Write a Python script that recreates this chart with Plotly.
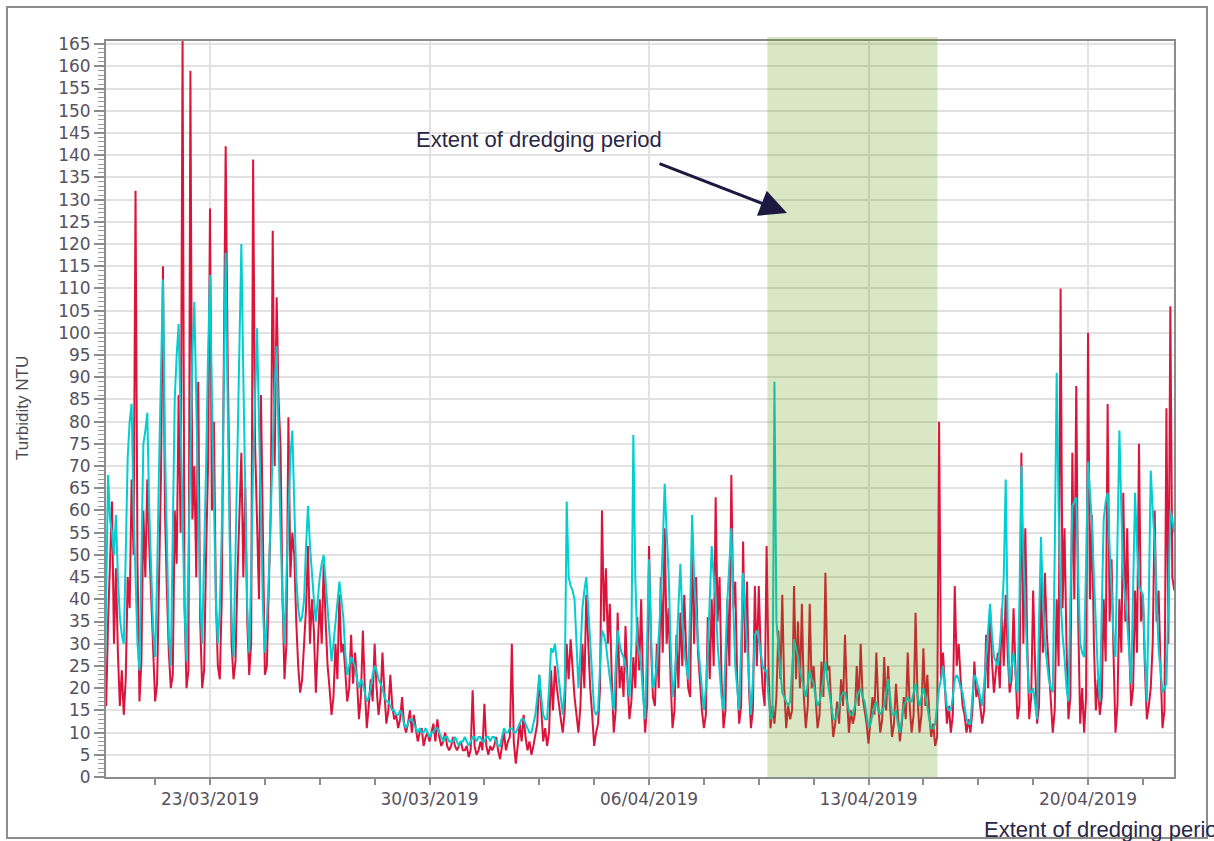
import pandas as pd
import plotly.graph_objects as go

# ---- data (1.5-hourly readings) ----
series_start = "2019-03-19 15:00"
step = "90min"

# red sensor, NTU (one row per day, 00:00 .. 22:30 every 1.5 h)
red_ntu = [
    20, 16, 35, 48, 62, 30,                                            # 19/03 (from 15:00)
    47, 28, 16, 24, 14, 22, 45, 38, 67, 50, 132, 48, 17, 26, 60, 45,   # 20/03
    67, 52, 40, 26, 17, 21, 50, 68, 115, 60, 42, 28, 20, 23, 60, 48,   # 21/03
    86, 55, 166, 39, 20, 24, 159, 58, 70, 45, 89, 35, 20, 24, 50, 70,  # 22/03
    128, 60, 80, 40, 25, 22, 40, 90, 142, 95, 64, 30, 22, 26, 45, 58,  # 23/03
    73, 45, 65, 35, 23, 30, 139, 75, 60, 40, 86, 50, 23, 25, 40, 60,   # 24/03
    123, 70, 108, 85, 74, 40, 22, 30, 81, 45, 55, 50, 35, 25, 19, 22,  # 25/03
    30, 38, 52, 30, 40, 33, 19, 28, 40, 30, 48, 35, 25, 20, 14, 18,    # 26/03
    30, 22, 41, 28, 30, 24, 17, 20, 32, 21, 28, 22, 13, 18, 33, 20,    # 27/03
    11, 16, 22, 17, 30, 20, 14, 18, 28, 19, 12, 15, 23, 16, 13, 14,    # 28/03
    11, 13, 18, 12, 10, 12, 15, 10, 14, 11, 8, 10, 11, 7, 9, 10,       # 29/03
    8, 10, 12, 8, 13, 9, 7, 8, 10, 7, 6, 7, 9, 7, 6, 7,                # 30/03
    8, 6, 6, 7, 4.5, 6, 19.5, 7, 5, 6, 8, 6, 16.5, 7, 5, 7,            # 31/03
    6, 7, 9, 6, 4, 7, 10, 6, 8, 9, 30, 8, 3, 7, 12, 8,                 # 01/04
    14, 9, 6, 8, 5, 7, 10, 12, 23, 14, 8, 11, 7, 10, 24, 15,           # 02/04
    25, 20, 16, 13, 10, 15, 30, 22, 31, 24, 18, 14, 10, 16, 30, 20,    # 03/04
    41, 30, 20, 14, 7, 10, 12, 20, 60, 35, 47, 30, 39, 22, 10, 15,     # 04/04
    37, 20, 25, 18, 34, 22, 13, 17, 27, 20, 36, 24, 40, 20, 10, 16,    # 05/04
    52, 30, 18, 16, 30, 20, 45, 28, 56, 30, 38, 22, 11, 15, 32, 20,    # 06/04
    37, 25, 41, 28, 20, 18, 55, 30, 45, 28, 20, 15, 11, 14, 36, 22,    # 07/04
    40, 25, 63, 35, 45, 22, 11, 15, 40, 25, 68, 38, 44, 22, 12, 16,    # 08/04
    53, 28, 44, 20, 11, 15, 43, 25, 43, 28, 20, 16, 52, 24, 11, 16,    # 09/04
    12, 18, 33, 22, 41, 20, 11, 16, 13, 15, 43, 22, 35, 20, 39, 18,    # 10/04
    11, 16, 39, 20, 25, 18, 11, 14, 26, 18, 46, 24, 25, 16, 9, 12,     # 11/04
    17, 12, 22, 16, 32, 18, 10, 15, 12, 14, 25, 16, 30, 18, 15, 12,    # 12/04
    7.5, 12, 18, 14, 28, 16, 10, 13, 27, 15, 25, 16, 9, 12, 21, 14,    # 13/04
    8, 12, 18, 13, 28, 16, 10, 14, 37, 18, 10, 14, 29, 16, 23, 14,     # 14/04
    9, 12, 7, 9, 80, 22, 28, 20, 12, 16, 10, 14, 43, 25, 30, 22,       # 15/04
    16, 14, 10, 13, 10, 15, 26, 18, 20, 16, 12, 15, 32, 20, 38, 26,    # 16/04
    19, 24, 28, 20, 38, 25, 41, 28, 19, 22, 38, 24, 13, 16, 73, 30,    # 17/04
    56, 30, 13, 18, 42, 25, 12, 16, 45, 28, 46, 32, 25, 18, 10, 15,    # 18/04
    40, 25, 110, 38, 56, 30, 13, 18, 73, 40, 88, 35, 12, 20, 10, 18,   # 19/04
    100, 40, 59, 30, 15, 22, 14, 18, 40, 26, 84, 35, 49, 28, 10, 16,   # 20/04
    40, 28, 64, 35, 56, 30, 16, 20, 42, 28, 75, 35, 41, 25, 13, 16,    # 21/04
    20, 30, 60, 35, 42, 25, 11, 15, 83, 30, 106, 45, 42,               # 22/04 (to 18:00)
]

# cyan sensor, NTU
cyan_ntu = [
    12, 40, 68, 58, 55, 50,                                            # 19/03
    59, 45, 36, 32, 30, 50, 72, 80, 84, 60, 45, 30, 24, 50, 75, 78,    # 20/03
    82, 60, 45, 33, 27, 45, 70, 95, 112, 75, 50, 32, 25, 55, 85, 95,   # 21/03
    102, 80, 60, 38, 26, 50, 80, 95, 107, 85, 60, 40, 30, 48, 70, 95,  # 22/03
    113, 85, 60, 40, 30, 38, 55, 90, 118, 85, 54, 36, 27, 50, 75, 100, # 23/03
    120, 90, 60, 38, 28, 45, 70, 88, 101, 80, 55, 38, 28, 35, 45, 60,  # 24/03
    75, 88, 97, 75, 55, 40, 30, 45, 60, 72, 78, 60, 45, 38, 35, 36,    # 25/03
    40, 52, 61, 52, 45, 40, 35, 40, 45, 48, 50, 44, 38, 30, 26, 30,    # 26/03
    35, 40, 44, 40, 36, 28, 23, 25, 27, 26, 25, 22, 20, 22, 21, 19,    # 27/03
    17, 18, 20, 23, 25, 24, 22, 21, 20, 18, 17, 17, 16, 15, 15, 14,    # 28/03
    14, 15, 14, 12, 11, 12, 13, 13, 12, 11, 10, 11, 10, 10, 11, 10,    # 29/03
    9, 10, 10, 11, 11, 10, 9, 8, 9, 9, 8, 8, 8, 9, 8, 7,               # 30/03
    8, 8, 9, 8, 7, 8, 9, 9, 8, 9, 9, 8, 8, 9, 9, 8,                    # 31/03
    9, 9, 8, 7, 7, 9, 11, 10, 10, 11, 11, 10, 10, 11, 12, 13,          # 01/04
    13, 12, 11, 10, 10, 12, 14, 18, 23, 18, 14, 13, 13, 20, 29, 28,    # 02/04
    30, 26, 22, 17, 14, 20, 62, 45, 43, 42, 40, 30, 20, 28, 38, 42,    # 03/04
    45, 38, 30, 22, 15, 14, 15, 25, 33, 32, 30, 26, 22, 18, 15, 25,    # 04/04
    33, 30, 28, 27, 25, 22, 18, 30, 77, 45, 30, 28, 25, 18, 13, 30,    # 05/04
    49, 32, 20, 22, 25, 32, 40, 52, 66, 55, 46, 30, 18, 22, 28, 38,    # 06/04
    48, 36, 28, 25, 22, 38, 59, 45, 36, 30, 25, 20, 15, 20, 28, 40,    # 07/04
    52, 45, 40, 30, 24, 18, 15, 28, 40, 48, 56, 38, 25, 20, 15, 30,    # 08/04
    46, 38, 30, 20, 14, 22, 32, 33, 31, 28, 25, 24, 24, 18, 13, 14,    # 09/04
    89, 35, 30, 24, 19, 18, 17, 16, 17, 24, 31, 29, 27, 24, 22, 20,    # 10/04
    18, 21, 24, 22, 21, 18, 16, 17, 19, 22, 26, 22, 19, 16, 13, 13,    # 11/04
    14, 16, 18, 19, 19, 17, 15, 14, 14, 16, 18, 19, 20, 18, 17, 14,    # 12/04
    11, 12, 14, 16, 17, 15, 14, 15, 16, 19, 22, 18, 14, 14, 15, 12,    # 13/04
    10, 13, 16, 17, 18, 17, 17, 19, 21, 18, 16, 18, 20, 18, 16, 13,    # 14/04
    11, 11, 12, 16, 20, 22, 25, 20, 16, 15, 15, 18, 22, 23, 22, 20,    # 15/04
    19, 16, 13, 12, 12, 18, 23, 22, 20, 18, 16, 21, 27, 33, 39, 32,    # 16/04
    27, 26, 25, 30, 36, 45, 67, 35, 21, 25, 28, 23, 19, 40, 70, 50,    # 17/04
    38, 26, 19, 19, 20, 16, 13, 35, 54, 40, 30, 26, 22, 20, 19, 50,    # 18/04
    91, 60, 40, 32, 27, 20, 17, 40, 61, 62, 63, 45, 30, 28, 27, 48,    # 19/04
    71, 64, 57, 45, 34, 24, 17, 38, 58, 62, 64, 52, 41, 32, 27, 52,    # 20/04
    78, 60, 45, 40, 35, 28, 21, 42, 64, 52, 43, 42, 41, 28, 17, 40,    # 21/04
    69, 60, 53, 40, 29, 24, 19, 20, 21, 40, 60, 58, 55,                # 22/04 (to 18:00)
]

dredging_period = ["2019-04-09 18:35", "2019-04-15 04:45"]
x_range = ["2019-03-19 16:24", "2019-04-22 17:48"]
y_range = [0, 165.7]
annotation_text = "Extent of dredging period"
y_title = "Turbidity NTU"

times = pd.date_range(series_start, periods=len(red_ntu), freq=step)

RED = "#DC143C"
CYAN = "#00CED1"
TICK_FONT = dict(family="DejaVu Sans", size=17, color="#57525e")
LABEL_FONT = dict(family="Liberation Sans", size=22, color="#2b2646")

# plot area in page pixels: x 106..1174, y 41..777
PL, PR, PT, PB = 106, 1174, 41, 777
def px(x):
    return (x - PL) / (PR - PL)
def py(y):
    return (PB - y) / (PB - PT)

fig = go.Figure()
fig.add_trace(go.Scatter(x=times, y=red_ntu, mode="lines",
                         line=dict(color=RED, width=2), showlegend=False))
fig.add_trace(go.Scatter(x=times, y=cyan_ntu, mode="lines",
                         line=dict(color=CYAN, width=2), showlegend=False))

# dredging band drawn over the data, translucent
fig.add_shape(type="rect", xref="x", yref="paper",
              x0=dredging_period[0], x1=dredging_period[1], y0=0, y1=py(37),
              fillcolor="rgba(90,151,0,0.23)", line=dict(width=0), layer="above")

# white box behind the annotation text (hides gridlines)
fig.add_shape(type="rect", xref="paper", yref="paper",
              x0=px(346), x1=px(710), y0=py(153), y1=py(122),
              fillcolor="white", line=dict(width=0), layer="between")

# outer frame
FRAME = dict(color="#8c8c8c", width=2)
fig.add_shape(type="rect", xref="paper", yref="paper",
              x0=px(7), x1=px(1207), y0=py(838), y1=py(7),
              line=FRAME, fillcolor="rgba(0,0,0,0)", layer="above")

fig.add_annotation(xref="paper", yref="paper", x=px(539), y=py(139),
                   xanchor="center", yanchor="middle",
                   text=annotation_text, showarrow=False, font=LABEL_FONT)
fig.add_annotation(xref="paper", yref="paper", x=px(787), y=py(213),
                   ax=-129, ay=-50, text="", showarrow=True,
                   arrowhead=2, arrowsize=1.8, arrowwidth=3, arrowcolor="#1c1840")
fig.add_annotation(xref="paper", yref="paper", x=px(982), y=py(829),
                   xanchor="left", yanchor="middle", text=annotation_text,
                   showarrow=False, font=LABEL_FONT)
fig.add_annotation(xref="paper", yref="paper", x=px(22), y=py(408),
                   xanchor="center", yanchor="middle",
                   text=y_title, textangle=-90, showarrow=False,
                   font=dict(family="Liberation Sans", size=17, color="#4a4a55"))

fig.update_layout(
    width=1214, height=841,
    margin=dict(l=PL, r=1214 - PR, t=PT, b=841 - PB),
    paper_bgcolor="white", plot_bgcolor="white",
    xaxis=dict(
        type="date", range=x_range,
        tick0="2019-03-23", dtick=604800000, tickformat="%d/%m/%Y",
        ticks="outside", ticklen=6, tickcolor="#8c8c8c", tickwidth=2,
        showgrid=True, gridcolor="#e2e2e2", gridwidth=2,
        showline=True, linecolor="#8c8c8c", linewidth=2, mirror=True,
        tickfont=TICK_FONT, zeroline=False,
        minor=dict(tick0="2019-03-23", dtick=151200000, ticks="outside",
                   ticklen=6, tickcolor="#8c8c8c", tickwidth=1.5, showgrid=False),
    ),
    yaxis=dict(
        range=y_range, tick0=0, dtick=5,
        ticks="outside", ticklen=10, tickcolor="#8c8c8c", tickwidth=1.5,
        showgrid=True, gridcolor="#e2e2e2", gridwidth=2,
        showline=True, linecolor="#8c8c8c", linewidth=2, mirror=True,
        tickfont=TICK_FONT, zeroline=False,
        minor=dict(dtick=1, ticks="outside", ticklen=6, tickcolor="#9a9a9a",
                   tickwidth=1, showgrid=False),
    ),
)

fig.write_html("out.html",
               config={"displayModeBar": False},
               post_script="document.body.style.margin='0';"
                           "document.body.style.overflow='hidden';")
